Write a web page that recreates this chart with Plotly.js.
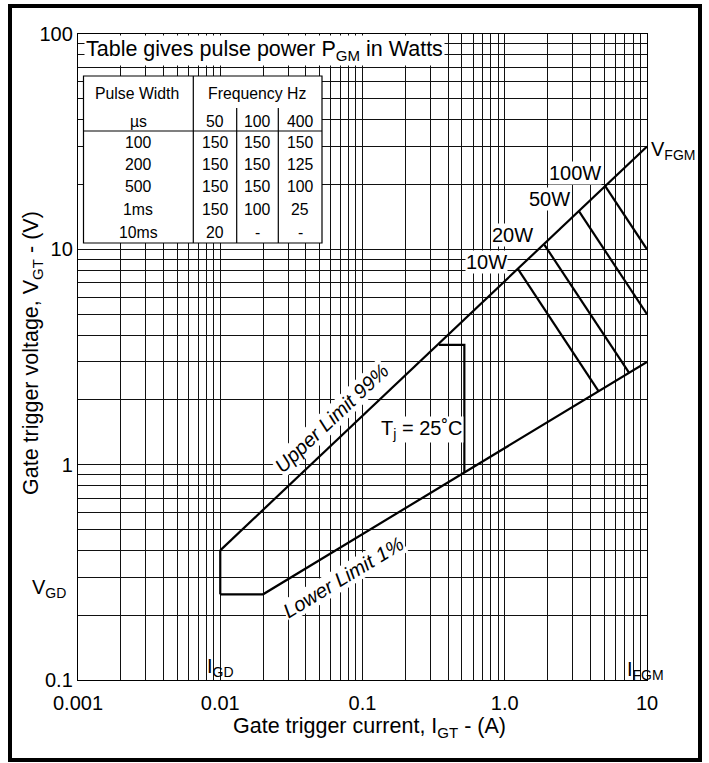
<!DOCTYPE html>
<html>
<head>
<meta charset="utf-8">
<script src="https://cdn.plot.ly/plotly-3.0.1.min.js"></script>
<style>
  html, body { margin: 0; padding: 0; background: #fff; }
  #wrap { position: relative; width: 709px; height: 763px; }
  #chart { position: absolute; left: 0; top: 0; width: 709px; height: 763px; }
  #frame { position: absolute; left: 8px; top: 4px; width: 686px; height: 750px;
           border: 4px solid #000; pointer-events: none; }
</style>
</head>
<body>
<div id="wrap">
  <div id="chart"></div>
  <div id="frame"></div>
</div>
<script>
// ---------------- data ----------------
// Gate characteristic boundaries (I in A, V in V)
const upperI = [0.01, 10];
const upperV = [0.4, 30];
const lowerI = [0.01, 0.02, 10];
const lowerV = [0.25, 0.25, 3];
const leftEdgeI = [0.01, 0.01];
const leftEdgeV = [0.25, 0.4];
// Tj = 25 C region marker
const tjI = [0.345, 0.52, 0.52];
const tjV = [3.6, 3.6, 0.92];
// Constant pulse-power lines
const p10I = [1.24, 4.55];
const p10V = [8.1, 2.2];
const p20I = [1.9, 7.45];
const p20V = [10.5, 2.68];
const p50I = [3.33, 10];
const p50V = [15.0, 5.0];
const p100I = [5.1, 10];
const p100V = [19.6, 10];
const powerLabels = ['10W', '20W', '50W', '100W'];

// Table of pulse power PGM in Watts
const pulseWidths = ['100', '200', '500', '1ms', '10ms'];
const frequencies = ['50', '100', '400'];
const pgm50 = ['150', '150', '150', '150', '20'];
const pgm100 = ['150', '150', '150', '100', '-'];
const pgm400 = ['150', '125', '100', '25', '-'];

// Axis ticks
const xDecades = [0.001, 0.01, 0.1, 1, 10];
const xTickLabels = ['0.001', '0.01', '0.1', '1.0', '10'];
const yDecades = [0.1, 1, 10, 100];
const yTickLabels = ['0.1', '1', '10', '100'];
const gridMantissas = [2, 3, 4, 5, 6, 7, 8, 9];

// ---------------- layout helpers ----------------
const FONT = 'Arial, "Liberation Sans", Helvetica, sans-serif';
const M = { l: 78, r: 62, t: 34, b: 83 };
const PW = 709 - M.l - M.r, PH = 763 - M.t - M.b;
const fx = px => (px - M.l) / PW;          // pixel -> paper x
const fy = py => (M.t + PH - py) / PH;     // pixel -> paper y
const L = v => Math.log10(v);

function buildTicks(decades, labels) {
  const vals = [], text = [];
  decades.forEach((d, i) => {
    vals.push(d); text.push(labels[i]);
    if (i < decades.length - 1) {
      gridMantissas.forEach(m => { vals.push(d * m); text.push(''); });
    }
  });
  return { vals, text };
}
const xt = buildTicks(xDecades, xTickLabels);
const yt = buildTicks(yDecades, yTickLabels);

const lineStyle = { color: '#000', width: 2.2 };
function seg(x, y) {
  return { type: 'scatter', mode: 'lines', x: x, y: y, line: lineStyle,
           hoverinfo: 'skip', showlegend: false };
}
const traces = [
  seg(upperI, upperV), seg(lowerI, lowerV), seg(leftEdgeI, leftEdgeV),
  seg(tjI, tjV),
  seg(p10I, p10V), seg(p20I, p20V), seg(p50I, p50V), seg(p100I, p100V)
];

// ---------------- table (shapes + annotations) ----------------
const tb = { x0: 83.5, x1: 322, y0: 76, y1: 243, colA: 193.3, col1: 236.7, col2: 278.3,
             subTop: 108, hdrLine: 131 };
const shapes = [];
function pline(x0, y0, x1, y1) {
  shapes.push({ type: 'line', xref: 'paper', yref: 'paper', x0: fx(x0), y0: fy(y0),
                x1: fx(x1), y1: fy(y1), line: { color: '#000', width: 1.2 }, layer: 'above' });
}
shapes.push({ type: 'rect', xref: 'paper', yref: 'paper', x0: fx(tb.x0), x1: fx(tb.x1),
              y0: fy(tb.y0), y1: fy(tb.y1), fillcolor: '#fff',
              line: { color: '#000', width: 1.2 }, layer: 'above' });
pline(tb.colA, tb.y0, tb.colA, tb.y1);
pline(tb.col1, tb.subTop, tb.col1, tb.y1);
pline(tb.col2, tb.subTop, tb.col2, tb.y1);
pline(tb.x0, tb.hdrLine, tb.x1, tb.hdrLine);

const annotations = [];
const TF = { family: FONT, size: 15.8, color: '#000' };
function ptext(text, px, py, font, extra) {
  annotations.push(Object.assign({ text: text, xref: 'paper', yref: 'paper', x: fx(px), y: fy(py),
    xanchor: 'center', yanchor: 'middle', showarrow: false, font: font }, extra || {}));
}
const colX = [138, 215, 257, 300];
const rowY = [142, 164, 187, 209, 232];
ptext('Pulse Width', 137, 94, TF);
ptext('Frequency Hz', 257, 94, TF);
ptext('µs', colX[0], 121, TF);
frequencies.forEach((f, i) => ptext(f, colX[i + 1], 121, TF));
pulseWidths.forEach((p, r) => {
  ptext(p, colX[0], rowY[r], TF);
  ptext(pgm50[r], colX[1], rowY[r], TF);
  ptext(pgm100[r], colX[2], rowY[r], TF);
  ptext(pgm400[r], colX[3], rowY[r], TF);
});

// Table title with white background
ptext('Table gives pulse power P<sub>GM</sub> in Watts', 84, 51,
      { family: FONT, size: 21.5, color: '#000' },
      { xanchor: 'left', bgcolor: '#fff', borderpad: 1 });

// Axis titles (placed as text where the reference shows them)
const AF = { family: FONT, size: 21.5, color: '#000' };
ptext('Gate trigger voltage, V<sub>GT</sub> - (V)', 32, 353, AF, { textangle: -90 });
ptext('Gate trigger current, I<sub>GT</sub> - (A)', 369, 727, AF);

// ---------------- chart labels ----------------
const LF = { family: FONT, size: 20, color: '#000' };
function dtext(text, xv, yv, extra) {
  annotations.push(Object.assign({ text: text, xref: 'x', yref: 'y', x: L(xv), y: L(yv),
    xanchor: 'center', yanchor: 'middle', showarrow: false, font: LF,
    bgcolor: '#fff', borderpad: 0 }, extra || {}));
}
// power labels
dtext(powerLabels[0], 0.75, 8.75);
dtext(powerLabels[1], 1.14, 11.6);
dtext(powerLabels[2], 2.08, 17.1);
dtext(powerLabels[3], 3.12, 22.6);
// limits
dtext('Upper Limit 99%', 0.061, 1.64, { textangle: -43.4, font: Object.assign({}, LF, { style: 'italic' }) });
dtext('Lower Limit 1%', 0.074, 0.30, { textangle: -31.2, font: Object.assign({}, LF, { style: 'italic' }) });
dtext('T<sub>j</sub> = 25˚C', 0.262, 1.45);
// axis-end labels
dtext('V<sub>FGM</sub>', 10, 28.9, { xanchor: 'left', xshift: 3, bgcolor: 'rgba(0,0,0,0)' });
dtext('I<sub>FGM</sub>', 7.1, 0.111, { xanchor: 'left', bgcolor: 'rgba(0,0,0,0)' });
dtext('I<sub>GD</sub>', 0.01, 0.114, { bgcolor: 'rgba(0,0,0,0)' });
annotations.push({ text: 'V<sub>GD</sub>', xref: 'paper', yref: 'y', x: fx(49), y: L(0.265),
  xanchor: 'center', yanchor: 'middle', showarrow: false, font: LF });

const axisCommon = {
  type: 'log', showgrid: true, gridcolor: '#111', gridwidth: 1,
  showline: true, linecolor: '#000', linewidth: 1.2, mirror: true,
  ticks: '', tickmode: 'array', zeroline: false, automargin: false,
  tickfont: { family: FONT, size: 20, color: '#000' }
};

const layout = {
  width: 709, height: 763,
  margin: M,
  paper_bgcolor: 'rgba(0,0,0,0)', plot_bgcolor: '#fff',
  showlegend: false,
  xaxis: Object.assign({}, axisCommon, {
    range: [L(0.001), L(10)], tickvals: xt.vals, ticktext: xt.text,
    ticklabelstandoff: 5
  }),
  yaxis: Object.assign({}, axisCommon, {
    range: [L(0.1), L(100)], tickvals: yt.vals, ticktext: yt.text
  }),
  shapes: shapes,
  annotations: annotations
};

Plotly.newPlot('chart', traces, layout, { displayModeBar: false, staticPlot: true });
</script>
</body>
</html>
